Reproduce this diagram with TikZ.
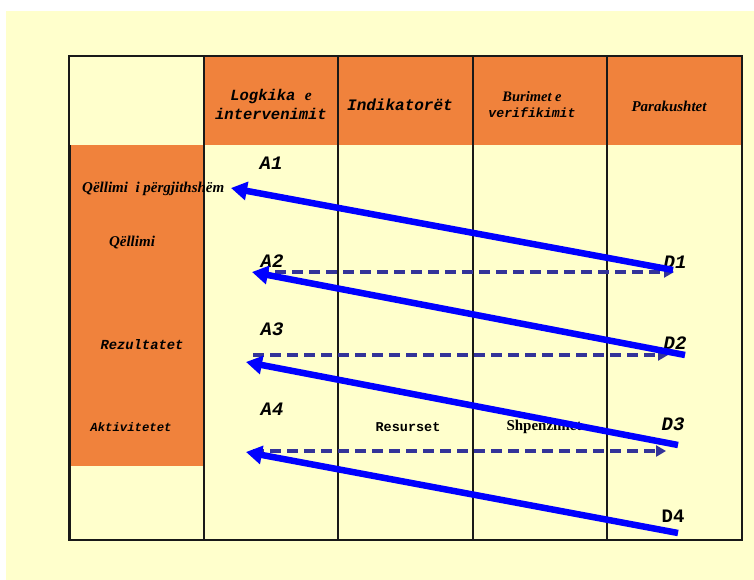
\documentclass[tikz,border=0pt]{standalone}
\usepackage{fontspec}
\setmainfont{Liberation Serif}
\newfontfamily\cour{Liberation Mono}
\usetikzlibrary{arrows.meta}
\definecolor{bgy}{HTML}{FFFFCC}
\definecolor{org}{HTML}{F0823C}
\definecolor{dsh}{HTML}{333399}
\tikzset{
  grid/.style={draw=black!90,line width=1.3pt},
  outer/.style={draw=black!90,line width=2.6pt},
  solidarr/.style={draw=blue,line width=6.5pt,-{Triangle[length=16pt,width=18pt]}},
  dasharr/.style={draw=dsh,line width=4.5pt,dash pattern=on 11pt off 6pt,-{Triangle[length=10pt,width=11pt]}},
  lab/.style={font=\cour\bfseries\itshape\fontsize{19}{19}\selectfont,inner sep=0pt},
  hdr/.style={font=\cour\bfseries\itshape\fontsize{15.5}{19}\selectfont,align=center,inner sep=0pt},
  ser/.style={font=\bfseries\itshape\fontsize{15}{17}\selectfont,inner sep=0pt},
  crs/.style={font=\cour\bfseries\itshape\fontsize{13.8}{15}\selectfont,inner sep=0pt}
}
\begin{document}
\begin{tikzpicture}[x=1pt,y=-1pt]
\useasboundingbox (0,0) rectangle (754,580);
\fill[white] (0,0) rectangle (754,580);
\fill[bgy] (6,11) rectangle (754,580);
% header fill
\fill[org] (204,56) rectangle (742,145);
% left column fill
\fill[org] (70,145) rectangle (204,466);
% grid
\foreach \x in {204,338,473,607} \draw[grid] (\x,56) -- (\x,540);
\draw[grid] (70,145) -- (70,540);
\draw[outer] (69,56) rectangle (742,540);
% headers
\node[hdr] (h1) at (271,104) {Logkika {\rmfamily e}\\intervenimit};
\node[hdr,font=\cour\bfseries\itshape\fontsize{16}{19}\selectfont] (h2) at (400,105) {Indikatorët};
\node[align=center,inner sep=0pt,font=\bfseries\itshape\fontsize{14.5}{16}\selectfont] (h3) at (532,105) {Burimet e\\{\cour\fontsize{13.2}{16}\selectfont verifikimit}};
\node[ser] (h4) at (669,106) {Parakushtet};
% left column
\node[ser,anchor=west] (r1) at (82,189) {Qëllimi \ i përgjithshëm};
\node[ser] (r2) at (132,243) {Qëllimi};
\node[crs] (r3) at (142,345) {Rezultatet};
\node[crs,font=\cour\bfseries\itshape\fontsize{12.3}{14}\selectfont] (r4) at (131,427) {Aktivitetet};
\node[font=\cour\bfseries\fontsize{13.5}{15}\selectfont,inner sep=0pt] (res) at (408,427) {Resurset};
\node[font=\bfseries\fontsize{15}{17}\selectfont,inner sep=0pt] (shp) at (544,427) {Shpenzimet};
% labels
\node[lab] (a1) at (271,163) {A1};
\node[lab] (a2) at (272,261) {A2};
\node[lab] (a3) at (272,329) {A3};
\node[lab] (a4) at (272,409) {A4};
\node[lab] (d1) at (675,262) {D1};
\node[lab] (d2) at (675,343) {D2};
\node[lab] (d3) at (673,424) {D3};
\node[lab,font=\cour\bfseries\fontsize{19}{19}\selectfont] (d4) at (673,516) {D4};
% endpoints
\coordinate (s1) at (673,270); \coordinate (e1) at (231,188);
\coordinate (s2) at (685,355); \coordinate (e2) at (252,272);
\coordinate (s3) at (678,445); \coordinate (e3) at (246,362);
\coordinate (s4) at (678,533); \coordinate (e4) at (246,452);
\coordinate (p1) at (258,272); \coordinate (q1) at (674,272);
\coordinate (p2) at (253,355); \coordinate (q2) at (668,355);
\coordinate (p3) at (253,451); \coordinate (q3) at (666,451);
% dashed arrows
\draw[dasharr] (p1) -- (q1);
\draw[dasharr] (p2) -- (q2);
\draw[dasharr] (p3) -- (q3);
% solid arrows
\draw[solidarr] (s1) -- (e1);
\draw[solidarr] (s2) -- (e2);
\draw[solidarr] (s3) -- (e3);
\draw[solidarr] (s4) -- (e4);
\end{tikzpicture}
\end{document}
